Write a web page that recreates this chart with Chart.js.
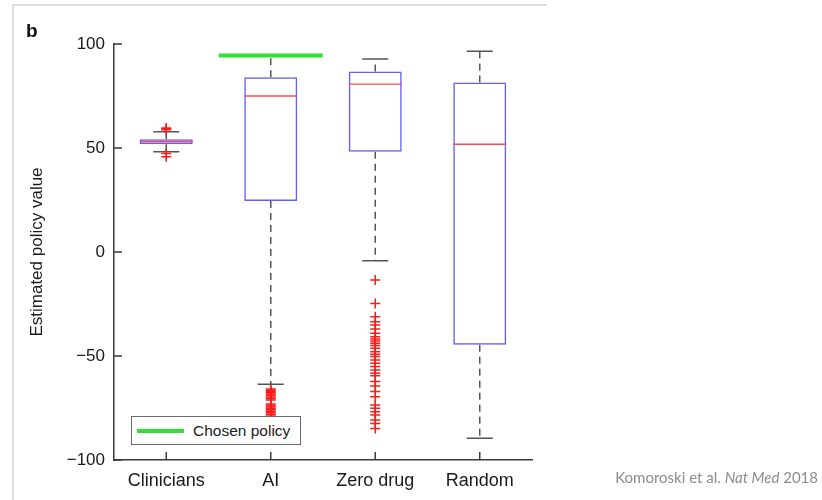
<!DOCTYPE html>
<html lang="en">
<head>
<meta charset="UTF-8">
<title>Estimated policy value</title>
<script src="https://cdn.jsdelivr.net/npm/chart.js"></script>
<style>
    body {
        margin: 0;
        background: #fff;
        font-family: 'Liberation Sans', Arial, sans-serif;
    }
    .wrap {
        position: relative;
        width: 822px;
        height: 500px;
        overflow: hidden;
    }
    .frame-top {
        position: absolute;
        left: 12px;
        top: 4px;
        width: 535px;
        height: 2px;
        background: #dcdcdc;
    }
    .frame-left {
        position: absolute;
        left: 12px;
        top: 4px;
        width: 2px;
        height: 496px;
        background: #dcdcdc;
    }
    .panel {
        position: absolute;
        left: 26px;
        top: 20px;
        font-weight: bold;
        font-size: 19px;
        color: #111;
    }
    .legend {
        position: absolute;
        left: 131px;
        top: 416px;
        width: 168px;
        height: 27px;
        border: 1px solid #6a6a6a;
        background: #fff;
        font-size: 15.5px;
        line-height: 27px;
        color: #222;
    }
    .legend .swatch {
        position: absolute;
        left: 5px;
        top: 12px;
        width: 47px;
        height: 4px;
        background: #2fe22f;
    }
    .legend .label {
        position: absolute;
        left: 61px;
        top: 0;
    }
    .cite {
        position: absolute;
        right: 4px;
        top: 468px;
        font-family: Lato, sans-serif;
        font-size: 15px;
        color: #8c8c8c;
    }
    canvas {
        position: absolute;
        left: 0;
        top: 0;
    }
</style>
</head>
<body>
<div class="wrap">
    <canvas id="chart" width="822" height="500"></canvas>
    <div class="frame-top"></div>
    <div class="frame-left"></div>
    <div class="panel">b</div>
    <div class="legend"><span class="swatch"></span><span class="label">Chosen policy</span></div>
    <div class="cite">Komoroski et al. <i>Nat Med</i> 2018</div>
</div>

<script>
    // values
    const categories = ['Clinicians', 'AI', 'Zero drug', 'Random'];
    const q1 = [51.8, 24.5, 48.2, -44.6];
    const q3 = [54.2, 84.0, 86.8, 81.5];
    const medians = [53.0, 75.0, 80.7, 51.8];
    const whiskerLow = [48.2, -63.6, -4.2, -89.5];
    const whiskerHigh = [57.8, 94.5, 92.8, 96.5];
    const outliersClinicians = [58.8, 59.2, 59.6, 47.4, 45.8];
    const outliersAI = [-65.9, -66.5, -67.1, -67.7, -68.3, -69.0, -69.7, -70.4, -71.2, -73.1, -73.8, -74.5, -75.2, -75.9, -76.6, -77.3, -78.0, -78.4];
    const outliersZeroDrug = [-13.5, -24.7, -31.1, -33.5, -35.1, -37.0, -39.1, -40.7, -41.8, -42.8, -43.9, -45.0,
        -46.3, -47.9, -49.2, -50.3, -51.9, -53.5, -55.1, -56.7, -58.3, -59.5, -62.3, -64.4, -67.1, -69.6,
        -73.6, -75.1, -76.8, -78.4, -80.8, -82.4, -84.8];
    const outliersRandom = [];
    const chosenPolicyAI = 94.5;
    const yTicks = [-100, -50, 0, 50, 100];

    const boxColor = '#5f5fff';
    const medianColor = '#ff4a4a';
    const whiskerColor = '#555555';
    const outlierColor = '#ff1a1a';
    const axisColor = '#3a3a3a';
    const font = "'Liberation Sans', Arial, sans-serif";

    // whisker segments, broken with y:null
    const whiskerData = [];
    categories.forEach((c, i) => {
        whiskerData.push({x: c, y: q3[i]}, {x: c, y: whiskerHigh[i]}, {x: c, y: null});
        whiskerData.push({x: c, y: q1[i]}, {x: c, y: whiskerLow[i]}, {x: c, y: null});
    });
    const capData = [];
    categories.forEach((c, i) => {
        capData.push({x: c, y: whiskerHigh[i]}, {x: c, y: whiskerLow[i]});
    });
    const outlierData = [];
    [outliersClinicians, outliersAI, outliersZeroDrug, outliersRandom].forEach((list, i) => {
        list.forEach(v => outlierData.push({x: categories[i], y: v}));
    });

    // MATLAB style ticks pointing into the plot
    const inwardTicks = {
        id: 'inwardTicks',
        afterDraw(chart) {
            const {ctx, chartArea} = chart;
            const x = chart.scales.x;
            const y = chart.scales.y;
            ctx.save();
            ctx.strokeStyle = axisColor;
            ctx.lineWidth = 1.5;
            ctx.beginPath();
            y.ticks.forEach(t => {
                const py = y.getPixelForValue(t.value);
                ctx.moveTo(chartArea.left, py);
                ctx.lineTo(chartArea.left + 8, py);
            });
            categories.forEach((c, i) => {
                const px = x.getPixelForValue(i);
                ctx.moveTo(px, chartArea.bottom);
                ctx.lineTo(px, chartArea.bottom - 8);
            });
            ctx.stroke();
            ctx.restore();
        }
    };

    new Chart(document.getElementById('chart'), {
        data: {
            labels: categories,
            datasets: [
                {
                    type: 'line',
                    label: 'Chosen policy',
                    data: [{x: 'AI', y: chosenPolicyAI}],
                    showLine: false,
                    pointStyle: 'line',
                    pointRadius: 52,
                    borderColor: '#2fe22f',
                    pointBorderColor: '#2fe22f',
                    pointBorderWidth: 4,
                    order: 0
                },
                {
                    type: 'line',
                    label: 'outliers',
                    data: outlierData,
                    showLine: false,
                    pointStyle: 'cross',
                    pointRadius: 5,
                    borderColor: outlierColor,
                    pointBorderColor: outlierColor,
                    pointBorderWidth: 1.5,
                    order: 1
                },
                {
                    type: 'line',
                    label: 'medians',
                    data: categories.map((c, i) => ({x: c, y: medians[i]})),
                    showLine: false,
                    pointStyle: 'line',
                    pointRadius: 26.5,
                    borderColor: medianColor,
                    pointBorderColor: medianColor,
                    pointBorderWidth: 1.3,
                    order: 2
                },
                {
                    type: 'line',
                    label: 'caps',
                    data: capData,
                    showLine: false,
                    pointStyle: 'line',
                    pointRadius: 13,
                    borderColor: whiskerColor,
                    pointBorderColor: whiskerColor,
                    pointBorderWidth: 1.5,
                    order: 2
                },
                {
                    type: 'bar',
                    label: 'boxes',
                    data: categories.map((c, i) => [q1[i], q3[i]]),
                    backgroundColor: 'rgba(255,255,255,0)',
                    borderColor: boxColor,
                    borderWidth: 1.5,
                    borderSkipped: false,
                    barPercentage: 0.507,
                    categoryPercentage: 1,
                    order: 3
                },
                {
                    type: 'line',
                    label: 'whiskers',
                    data: whiskerData,
                    borderColor: whiskerColor,
                    borderWidth: 1.5,
                    borderDash: [7, 5],
                    pointRadius: 0,
                    spanGaps: false,
                    order: 4
                }
            ]
        },
        options: {
            responsive: false,
            animation: false,
            events: [],
            layout: {autoPadding: false, padding: {left: 27, top: 44, right: 290, bottom: 0}},
            plugins: {
                legend: {display: false},
                tooltip: {enabled: false}
            },
            scales: {
                x: {
                    type: 'category',
                    offset: true,
                    grid: {display: false},
                    border: {display: true, color: axisColor, width: 1.5},
                    ticks: {
                        color: '#1a1a1a',
                        padding: 2,
                        font: {family: font, size: 18}
                    },
                    afterFit: s => { s.height = 40; }
                },
                y: {
                    min: -100,
                    max: 100,
                    grid: {display: false},
                    border: {display: true, color: axisColor, width: 1.5},
                    afterBuildTicks: s => { s.ticks = yTicks.map(v => ({value: v})); },
                    ticks: {
                        color: '#1a1a1a',
                        padding: 1,
                        font: {family: font, size: 17}
                    ,
                        callback: v => v < 0 ? '\u2212' + Math.abs(v) : String(v)
                    },
                    title: {
                        display: true,
                        text: 'Estimated policy value',
                        color: '#1a1a1a',
                        padding: {top: 0, bottom: 0},
                        font: {family: font, size: 17}
                    },
                    afterFit: s => { s.width = 87; }
                }
            }
        },
        plugins: [inwardTicks]
    });
</script>
</body>
</html>
